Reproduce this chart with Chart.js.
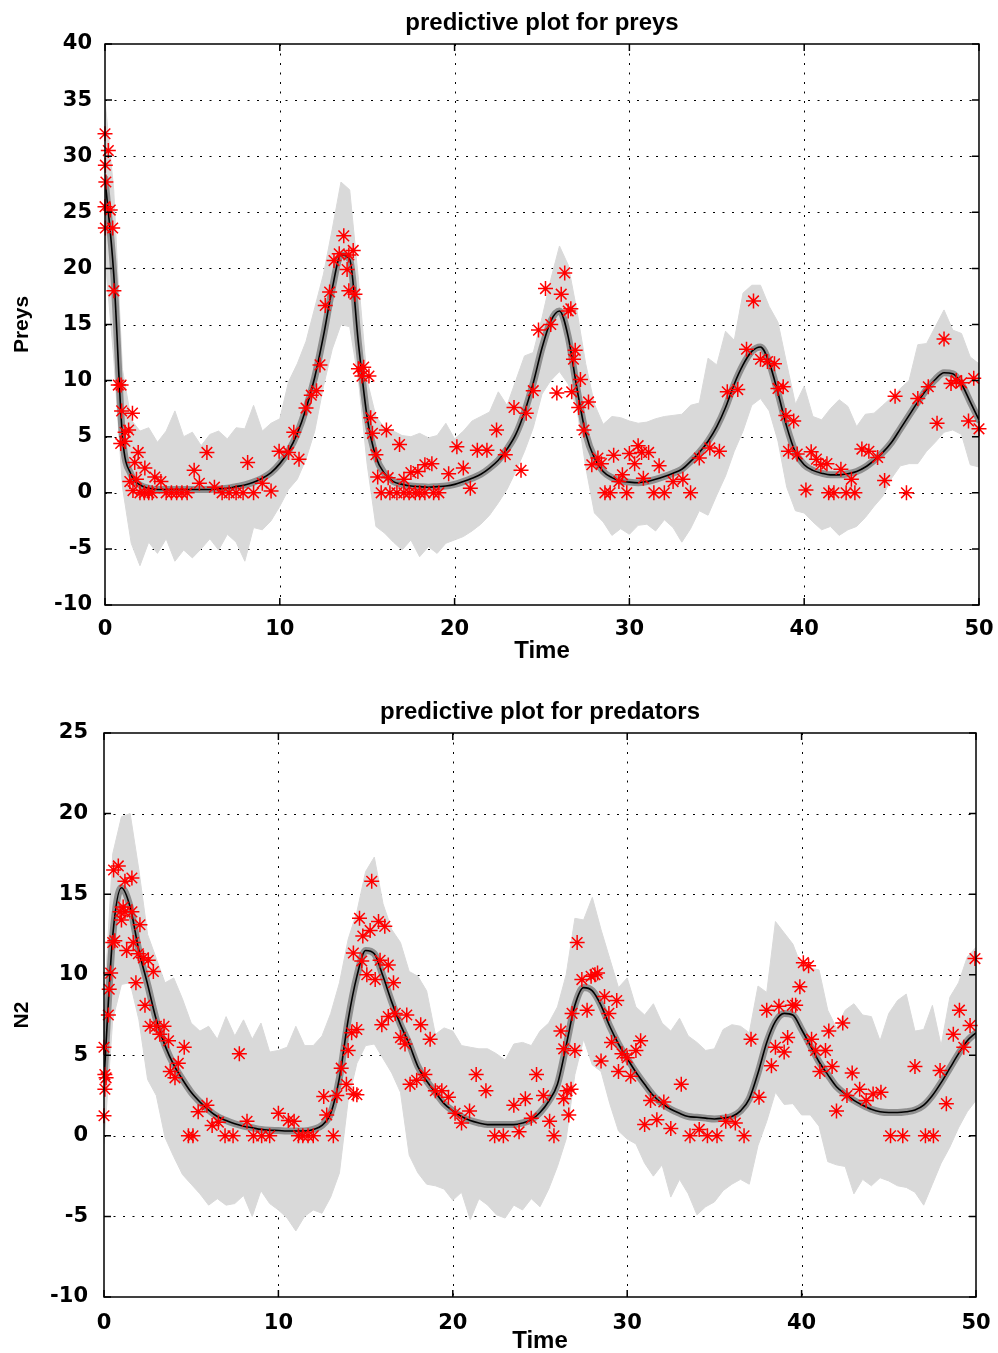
<!DOCTYPE html>
<html lang="en">
<head>
  <meta charset="UTF-8">
  <title>Predictive plots</title>
  <script src="https://cdn.jsdelivr.net/npm/chart.js"></script>
  <style>
    body { margin: 0; background: #fff; width: 998px; height: 1353px; overflow: hidden; position: relative; }
    canvas { position: absolute; left: 0; }
    #preyChart { top: 0; }
    #predChart { top: 680px; }
  </style>
</head>
<body>
  <canvas id="preyChart" width="998" height="670"></canvas>
  <canvas id="predChart" width="998" height="676"></canvas>

  <script>
    // time grid of the predictive bands
    const times = [0,0.5,1,1.5,2,2.5,3,3.5,4,4.5,5,5.5,6,6.5,7,7.5,8,8.5,9,9.5,
      10,10.5,11,11.5,12,12.5,13,13.5,14,14.5,15,15.5,16,16.5,17,17.5,18,18.5,19,19.5,
      20,20.5,21,21.5,22,22.5,23,23.5,24,24.5,25,25.5,26,26.5,27,27.5,28,28.5,29,29.5,
      30,30.5,31,31.5,32,32.5,33,33.5,34,34.5,35,35.5,36,36.5,37,37.5,38,38.5,39,39.5,
      40,40.5,41,41.5,42,42.5,43,43.5,44,44.5,45,45.5,46,46.5,47,47.5,48,48.5,49,49.5,50];

    // preys
    const preyMedian = [28,19.5,5.0,1.6,0.7,0.4,0.3,0.3,0.3,0.3,
      0.3,0.3,0.3,0.35,0.4,0.55,0.7,0.95,1.3,1.8,
      2.6,3.7,5.3,7.5,10.3,14.0,18.2,21.2,20.8,13.3,
      6.7,3.2,1.7,1.0,0.75,0.6,0.55,0.5,0.55,0.6,
      0.75,1.0,1.3,1.65,2.2,2.9,3.9,5.2,7.2,9.8,
      12.9,15.3,16.2,13.9,9.3,5.3,3.1,1.9,1.35,1.05,
      0.95,0.9,1.0,1.2,1.45,1.75,2.1,2.8,3.6,4.6,
      5.9,7.6,9.7,11.4,12.6,13.0,11.6,8.9,5.9,3.6,
      2.5,2.0,1.75,1.6,1.6,1.7,1.9,2.3,2.9,3.6,
      4.5,5.7,6.9,8.1,9.2,10.1,10.7,10.6,9.7,8.1,6.5];
    const preyUpper = [35,27,11,6.5,5.5,5.8,4.5,5.5,7.3,5.0,
      5.4,4.2,5.2,5.5,4.8,5.8,5.7,7.8,5.5,6.2,
      6.6,9.9,11.5,13.5,16.5,19.5,23.5,27.7,27.0,19.0,
      10.0,6.8,5.8,5.5,5.1,5.0,5.3,4.9,5.1,6.2,
      4.8,5.5,6.4,6.8,7.2,9.0,7.8,10.0,12.2,12.5,
      15.6,19.0,22.0,20.3,16.2,11.5,7.9,6.1,6.8,6.7,
      6.4,6.2,6.3,6.6,6.8,6.9,7.0,7.8,8.0,12.0,
      11.4,14.4,13.6,17.8,18.5,18.5,16.6,15.2,11.5,7.9,
      9.5,6.8,6.5,7.5,8.3,7.7,5.9,7.0,7.1,7.8,
      8.5,9.3,10.0,13.2,13.3,14.8,16.3,14.5,14.2,12.1,11.5];
    const preyLower = [21,12,0.5,-4.5,-6.5,-4.4,-5.4,-4.1,-6.1,-5.1,
      -5.8,-5.0,-4.1,-5.1,-3.7,-4.4,-6.1,-3.1,-3.3,-2.5,
      -1.2,0.3,1.2,3.0,5.5,9.5,12.8,15.0,14.8,10.0,
      2.5,-3.0,-3.6,-4.4,-5.1,-4.2,-5.7,-4.8,-5.4,-4.5,
      -4.2,-3.9,-3.4,-2.8,-2.0,-0.9,0.3,1.9,3.7,5.8,
      8.8,10.0,10.8,9.7,7.5,2.3,-1.8,-2.6,-3.8,-3.2,
      -3.7,-2.9,-2.8,-3.4,-2.4,-3.1,-4.4,-3.2,-1.6,-2.0,
      -0.2,1.5,3.7,5.5,7.8,8.4,7.3,4.6,0.5,-1.6,
      -1.8,-2.6,-3.3,-3.0,-3.8,-3.3,-3.0,-2.2,-1.2,-0.3,
      1.3,2.4,2.6,2.6,3.7,4.5,5.4,5.6,5.2,2.5,2.3];
    const preyObs = [[0,32.0],[0.19,30.5],[0.02,29.2],[0.05,27.7],[0,25.5],[0.3,25.2],[0.02,23.6],[0.44,23.6],
      [0.51,18.0],[0.76,9.6],[0.92,9.6],[0.95,7.3],[1.57,7.1],[1.15,5.4],[1.35,5.6],[0.9,4.4],[1.14,4.6],
      [1.9,3.6],[1.7,2.7],[2.28,2.2],[1.42,1.0],[1.8,1.2],[2.85,1.4],[3.2,1.0],[1.6,0.2],[2.0,0],[2.25,0],
      [2.5,0],[2.7,0],[3.5,0],[3.8,0],[4.1,0],[4.4,0],[4.7,0],[5.1,2.0],[5.4,0.85],[5.83,3.6],[6.26,0.5],
      [6.7,0],[7.1,0],[7.5,0],[7.9,0],[8.16,2.7],[8.5,0],[9.0,0.85],[9.5,0.15],[9.96,3.7],[10.5,3.6],
      [10.8,5.4],[11.1,3.0],[11.5,7.55],[11.8,8.7],[12.1,9.1],[12.3,11.4],[12.6,16.7],[12.85,17.9],
      [13.1,20.7],[13.4,21.3],[13.66,22.9],[13.95,21.2],[14.2,21.6],[13.85,19.9],[13.95,18.0],[14.3,17.7],
      [14.5,11.05],[14.8,11.2],[14.7,10.4],[15.1,10.4],[15.2,6.7],[15.3,5.3],[15.5,3.4],[16.1,5.6],
      [16.85,4.3],[15.6,1.4],[16.2,1.35],[17.1,1.2],[15.8,0],[16.3,0],[16.7,0],[17.1,0],[17.4,0],
      [17.5,1.8],[17.9,1.9],[18.3,2.5],[18.7,2.6],[17.75,0],[18.0,0],[18.3,0],[18.8,0],[19.1,0],
      [19.66,1.7],[20.13,4.1],[20.5,2.2],[20.9,0.4],[21.3,3.8],[21.85,3.8],[22.4,5.6],[22.9,3.4],
      [23.4,7.6],[23.8,2.0],[24.1,7.1],[24.5,9.1],[24.8,14.5],[25.2,18.2],[25.5,15.0],[25.85,8.9],
      [26.1,17.7],[26.3,19.6],[26.5,16.2],[26.65,16.4],[26.7,9.0],[26.9,12.7],[26.8,11.9],[27.2,10.1],
      [27.66,8.1],[27.1,7.6],[27.4,5.6],[28.2,3.1],[27.85,2.5],[28.4,2.6],[29.1,3.35],[28.6,0],[28.9,0],
      [29.4,1.0],[29.6,1.6],[29.85,0],[30.0,3.5],[30.3,2.6],[30.5,4.2],[30.7,3.6],[31.1,3.6],[30.8,1.3],
      [31.4,0],[32.0,0],[31.7,2.4],[32.5,1.0],[33.06,1.2],[33.5,0],[34.0,3.1],[34.6,4.0],[35.15,3.7],
      [35.6,9.0],[36.2,9.2],[36.7,12.8],[37.1,17.1],[37.5,11.9],[37.9,11.7],[38.3,11.5],[38.5,9.3],
      [38.8,9.45],[38.95,6.9],[39.4,6.4],[39.1,3.7],[39.6,3.45],[40.1,0.25],[40.4,3.65],[40.7,3.0],
      [40.95,2.5],[41.3,2.6],[41.4,0],[41.7,0],[42.1,2.1],[42.4,0],[42.9,0],[42.7,1.2],[43.3,3.9],
      [43.7,3.7],[44.2,3.15],[44.6,1.1],[45.2,8.6],[45.85,0],[46.5,8.4],[47.1,9.45],[47.6,6.2],
      [48.0,13.7],[48.4,9.75],[48.7,10.0],[49.0,9.8],[49.7,10.2],[49.4,6.4],[50.0,5.7]];

    // predators
    const predMedian = [3.5,12.4,15.4,14.2,11.5,9.4,7.2,5.6,4.4,3.5,
      2.7,2.1,1.6,1.2,0.95,0.75,0.6,0.5,0.4,0.35,
      0.33,0.3,0.3,0.3,0.4,0.65,1.4,3.6,7.2,9.9,
      11.5,11.3,9.9,8.3,6.9,5.7,4.3,3.4,2.7,2.0,
      1.55,1.2,0.95,0.8,0.7,0.7,0.7,0.7,0.8,1.0,
      1.45,2.15,3.2,5.6,8.1,9.2,9.0,8.1,6.8,5.7,
      4.8,3.95,3.2,2.5,2.0,1.65,1.4,1.2,1.15,1.1,
      1.05,1.1,1.2,1.55,2.3,3.9,5.8,7.1,7.6,7.5,
      6.6,5.6,4.6,3.8,3.05,2.6,2.2,1.9,1.65,1.5,
      1.45,1.45,1.5,1.6,1.9,2.5,3.3,4.2,5.1,5.9,6.4];
    const predUpper = [8.0,17.5,19.8,20.0,16.5,12.5,11.0,9.5,9.8,8.5,
      7.0,6.5,6.8,6.0,7.4,6.2,7.2,6.0,7.0,5.2,
      5.3,5.5,6.8,5.6,5.6,6.2,7.6,9.5,12.2,13.9,
      16.4,17.3,14.4,12.8,12.0,10.2,9.9,9.0,6.3,6.7,
      6.5,5.6,5.5,5.4,5.4,5.1,4.7,5.7,5.8,5.6,
      6.5,7.0,8.0,10.0,13.5,13.4,14.8,12.8,11.0,9.2,
      9.8,8.0,7.5,8.2,7.0,6.5,7.3,6.2,5.8,5.3,
      5.4,6.6,6.9,6.8,6.4,9.3,8.9,13.3,12.6,11.9,
      10.5,10.4,10.3,7.8,6.7,7.8,8.2,7.5,7.4,5.9,
      7.6,8.4,8.8,6.5,6.6,8.1,5.6,8.6,9.5,11.1,11.7];
    const predLower = [-0.5,7.2,9.4,9.5,7.2,3.5,2.5,-0.1,-1.3,-2.4,
      -3.0,-3.6,-4.3,-3.9,-4.3,-4.2,-3.7,-5.0,-3.4,-4.2,
      -4.6,-5.1,-5.9,-5.0,-4.6,-4.8,-3.8,-2.3,2.2,4.5,
      5.6,5.7,4.8,3.9,2.7,-1.2,-2.3,-3.0,-3.1,-3.3,
      -4.0,-3.5,-5.2,-3.9,-4.3,-4.9,-5.1,-4.3,-4.6,-3.9,
      -4.4,-3.3,-1.9,-0.2,3.8,6.0,4.4,4.0,2.0,0.3,
      -0.2,-0.5,-1.7,-2.5,-1.8,-3.8,-2.7,-3.6,-4.9,-4.4,
      -4.1,-3.4,-3.0,-2.7,-3.0,-0.6,0.9,2.7,1.95,2.0,
      1.3,1.3,0.6,-1.6,-1.8,-1.9,-3.6,-2.7,-3.1,-2.6,
      -2.8,-3.1,-3.2,-3.5,-4.3,-3.0,-1.7,-0.7,0.5,1.5,2.2];
    const predObs = [[0,1.25],[0.05,2.9],[0.05,3.8],[0.12,3.6],[0,5.5],[0.25,7.5],[0.3,9.1],[0.38,10.1],
      [0.5,12.0],[0.62,12.1],[0.55,16.5],[0.82,16.75],[0.92,13.9],[1.0,13.4],[1.2,13.9],[1.6,13.9],
      [1.2,15.8],[1.6,16.0],[1.1,14.2],[2.06,13.1],[1.3,11.5],[1.68,12.0],[1.97,11.3],[2.26,11.05],
      [2.54,10.9],[2.83,10.2],[1.83,9.5],[2.35,8.1],[2.64,6.8],[3.0,6.8],[3.44,6.8],[3.2,6.3],[3.7,5.9],
      [4.6,5.5],[4.26,4.5],[3.8,4.0],[4.07,3.6],[4.84,0],[5.1,0],[5.4,1.5],[5.9,1.9],[6.2,0.65],
      [6.56,0.85],[6.94,0],[7.4,0],[7.76,5.1],[8.2,0.9],[8.57,0],[9.04,0],[9.5,0],[10.0,1.4],
      [10.57,0.95],[10.9,0.9],[11.15,0],[11.4,0],[11.7,0],[12.0,0],[13.15,0],[12.77,1.3],[12.6,2.45],
      [13.35,2.5],[13.9,3.2],[14.3,2.6],[14.5,2.55],[13.6,4.2],[14.0,5.3],[14.2,6.4],[14.5,6.6],
      [14.3,11.35],[14.65,13.5],[14.84,12.4],[15.26,12.75],[15.35,15.8],[14.78,10.85],[15.07,10.0],
      [15.55,9.7],[15.74,13.3],[16.1,13.0],[15.83,10.9],[16.3,10.6],[16.6,9.5],[15.93,6.9],[16.3,7.4],
      [16.7,7.6],[17.36,7.5],[17.0,6.1],[17.26,5.7],[17.55,3.2],[18.16,6.9],[18.7,6.0],[17.93,3.45],
      [18.4,3.8],[19.0,2.8],[19.37,2.8],[19.75,2.4],[20.13,1.4],[20.5,0.8],[20.96,1.55],[21.34,3.8],
      [21.9,2.8],[22.4,0],[22.9,0],[23.5,1.9],[23.8,0.25],[24.16,2.3],[24.5,1.1],[24.8,3.8],[25.2,2.5],
      [25.55,0.9],[25.8,0],[26.2,6.5],[26.36,2.3],[26.55,2.8],[26.78,2.9],[26.65,1.3],[26.36,5.4],
      [27.0,5.3],[26.84,7.6],[27.13,12.0],[27.4,9.7],[27.7,7.8],[27.93,9.9],[28.3,10.1],[28.15,10.0],
      [28.7,8.65],[28.95,7.6],[29.4,8.4],[29.1,5.8],[28.5,4.65],[29.5,4.0],[29.7,5.1],[30.0,4.85],
      [30.2,3.7],[30.5,5.3],[30.77,5.9],[31.0,0.7],[31.34,2.2],[31.7,1.0],[32.1,2.1],[32.5,0.45],
      [33.1,3.2],[33.6,0],[34.13,0.4],[34.6,0],[35.15,0],[35.65,0.9],[36.2,0.8],[36.7,0],[37.1,6.0],
      [37.56,2.4],[38.0,7.8],[38.27,4.35],[38.5,5.5],[38.7,8.05],[39.0,5.2],[39.2,6.1],[39.47,8.1],
      [39.66,8.1],[39.9,9.25],[40.1,10.75],[40.4,10.55],[40.57,6.0],[40.8,5.3],[41.37,5.3],[41.05,4.0],
      [41.56,6.5],[41.75,4.3],[42.0,1.55],[42.36,7.0],[42.6,2.5],[42.9,3.9],[43.33,2.9],[43.7,2.2],
      [44.1,2.6],[44.55,2.7],[45.1,0],[45.8,0],[46.5,4.3],[47.1,0],[47.56,0],[47.94,4.05],[48.3,2.0],
      [48.7,6.3],[49.05,7.8],[49.3,5.5],[49.66,6.85],[49.94,11.0]];

    const tickFont = { family: "'DejaVu Sans', sans-serif", size: 21, weight: 'bold' };
    const titleFont = { family: "'Liberation Sans', Arial, sans-serif", size: 24, weight: 'bold' };
    const yLabelFont = { family: "'Liberation Sans', Arial, sans-serif", size: 21, weight: 'bold' };

    function pts(ys) { return times.map((t, i) => ({ x: t, y: ys[i] })); }

    // dotted grid under the data, box with inward ticks over it
    const boxGrid = {
      id: 'boxGrid',
      beforeDatasetsDraw(chart) {
        const { ctx, chartArea: a, scales: { x, y } } = chart;
        ctx.save();
        ctx.strokeStyle = '#000';
        ctx.lineWidth = 1;
        ctx.setLineDash([2, 7.5]);
        x.ticks.forEach(t => {
          const px = Math.round(x.getPixelForValue(t.value)) + 0.5;
          if (px < a.left + 3 || px > a.right - 3) return;
          ctx.beginPath(); ctx.moveTo(px, a.top); ctx.lineTo(px, a.bottom); ctx.stroke();
        });
        y.ticks.forEach(t => {
          const py = Math.round(y.getPixelForValue(t.value)) + 0.5;
          if (py < a.top + 3 || py > a.bottom - 3) return;
          ctx.beginPath(); ctx.moveTo(a.left, py); ctx.lineTo(a.right, py); ctx.stroke();
        });
        ctx.restore();
      },
      afterDatasetsDraw(chart) {
        const { ctx, chartArea: a, scales: { x, y } } = chart;
        const tl = 7;
        ctx.save();
        ctx.strokeStyle = '#000';
        ctx.lineWidth = 1.5;
        ctx.strokeRect(a.left, a.top, a.right - a.left, a.bottom - a.top);
        ctx.beginPath();
        x.ticks.forEach(t => {
          const px = x.getPixelForValue(t.value);
          ctx.moveTo(px, a.bottom); ctx.lineTo(px, a.bottom - tl);
          ctx.moveTo(px, a.top); ctx.lineTo(px, a.top + tl);
        });
        y.ticks.forEach(t => {
          const py = y.getPixelForValue(t.value);
          ctx.moveTo(a.left, py); ctx.lineTo(a.left + tl, py);
          ctx.moveTo(a.right, py); ctx.lineTo(a.right - tl, py);
        });
        ctx.stroke();
        ctx.restore();
      }
    };

    function makeChart(id, o) {
      return new Chart(document.getElementById(id), {
        type: 'line',
        data: {
          datasets: [
            { data: pts(o.upper), fill: '+1', backgroundColor: '#d9d9d9', borderColor: '#d9d9d9',
              borderWidth: 1, pointRadius: 0, tension: 0, order: 5 },
            { data: pts(o.lower), fill: false, borderColor: '#d9d9d9',
              borderWidth: 1, pointRadius: 0, tension: 0, order: 6 },
            { data: pts(o.median), fill: false, borderColor: '#8f8f8f', borderWidth: 7,
              borderCapStyle: 'round', borderJoinStyle: 'round',
              pointRadius: 0, cubicInterpolationMode: 'monotone', order: 3 },
            { data: pts(o.median), fill: false, borderColor: '#000', borderWidth: 1.6,
              pointRadius: 0, cubicInterpolationMode: 'monotone', order: 2 },
            { data: o.obs.map(p => ({ x: p[0], y: p[1] })), showLine: false, clip: false,
              pointStyle: 'star', pointRadius: 7.5, pointBorderColor: '#ff0000',
              pointBorderWidth: 1.5, pointBackgroundColor: '#ff0000', order: 1 }
          ]
        },
        options: {
          responsive: false,
          devicePixelRatio: 1,
          animation: false,
          events: [],
          layout: { padding: { right: o.padRight } },
          plugins: {
            legend: { display: false },
            tooltip: { enabled: false },
            title: { display: true, fullSize: false, text: o.title, color: '#000', font: titleFont,
              padding: { top: o.titleTop, bottom: o.titleBottom } }
          },
          scales: {
            x: {
              type: 'linear', min: 0, max: 50,
              grid: { display: false }, border: { display: false },
              ticks: { stepSize: 10, color: '#000', font: tickFont, padding: o.xTickPad, maxRotation: 0 },
              title: { display: true, text: 'Time', color: '#000', font: titleFont,
                padding: { top: 0, bottom: o.xTitlePad } },
              afterFit: s => { s.height = o.xAxisH; }
            },
            y: {
              min: o.yMin, max: o.yMax,
              grid: { display: false }, border: { display: false },
              ticks: { stepSize: 5, color: '#000', font: tickFont, padding: o.yTickPad },
              title: { display: true, text: o.yLabel, color: '#000', font: yLabelFont,
                padding: { top: 10, bottom: 0 } },
              afterFit: s => { s.width = o.yAxisW; }
            }
          }
        },
        plugins: [boxGrid]
      });
    }

    makeChart('preyChart', {
      title: 'predictive plot for preys', yLabel: 'Preys', yMin: -10, yMax: 40,
      median: preyMedian, upper: preyUpper, lower: preyLower, obs: preyObs,
      titleTop: 9.2, titleBottom: 6, padRight: 17, xAxisH: 65, xTickPad: 4.4, xTitlePad: 4.6,
      yAxisW: 105, yTickPad: 5
    });

    makeChart('predChart', {
      title: 'predictive plot for predators', yLabel: 'N2', yMin: -10, yMax: 25,
      median: predMedian, upper: predUpper, lower: predLower, obs: predObs,
      titleTop: 18.2, titleBottom: 6, padRight: 22, xAxisH: 59, xTickPad: 6.4, xTitlePad: 0.6,
      yAxisW: 104, yTickPad: 8
    });
  </script>
</body>
</html>
